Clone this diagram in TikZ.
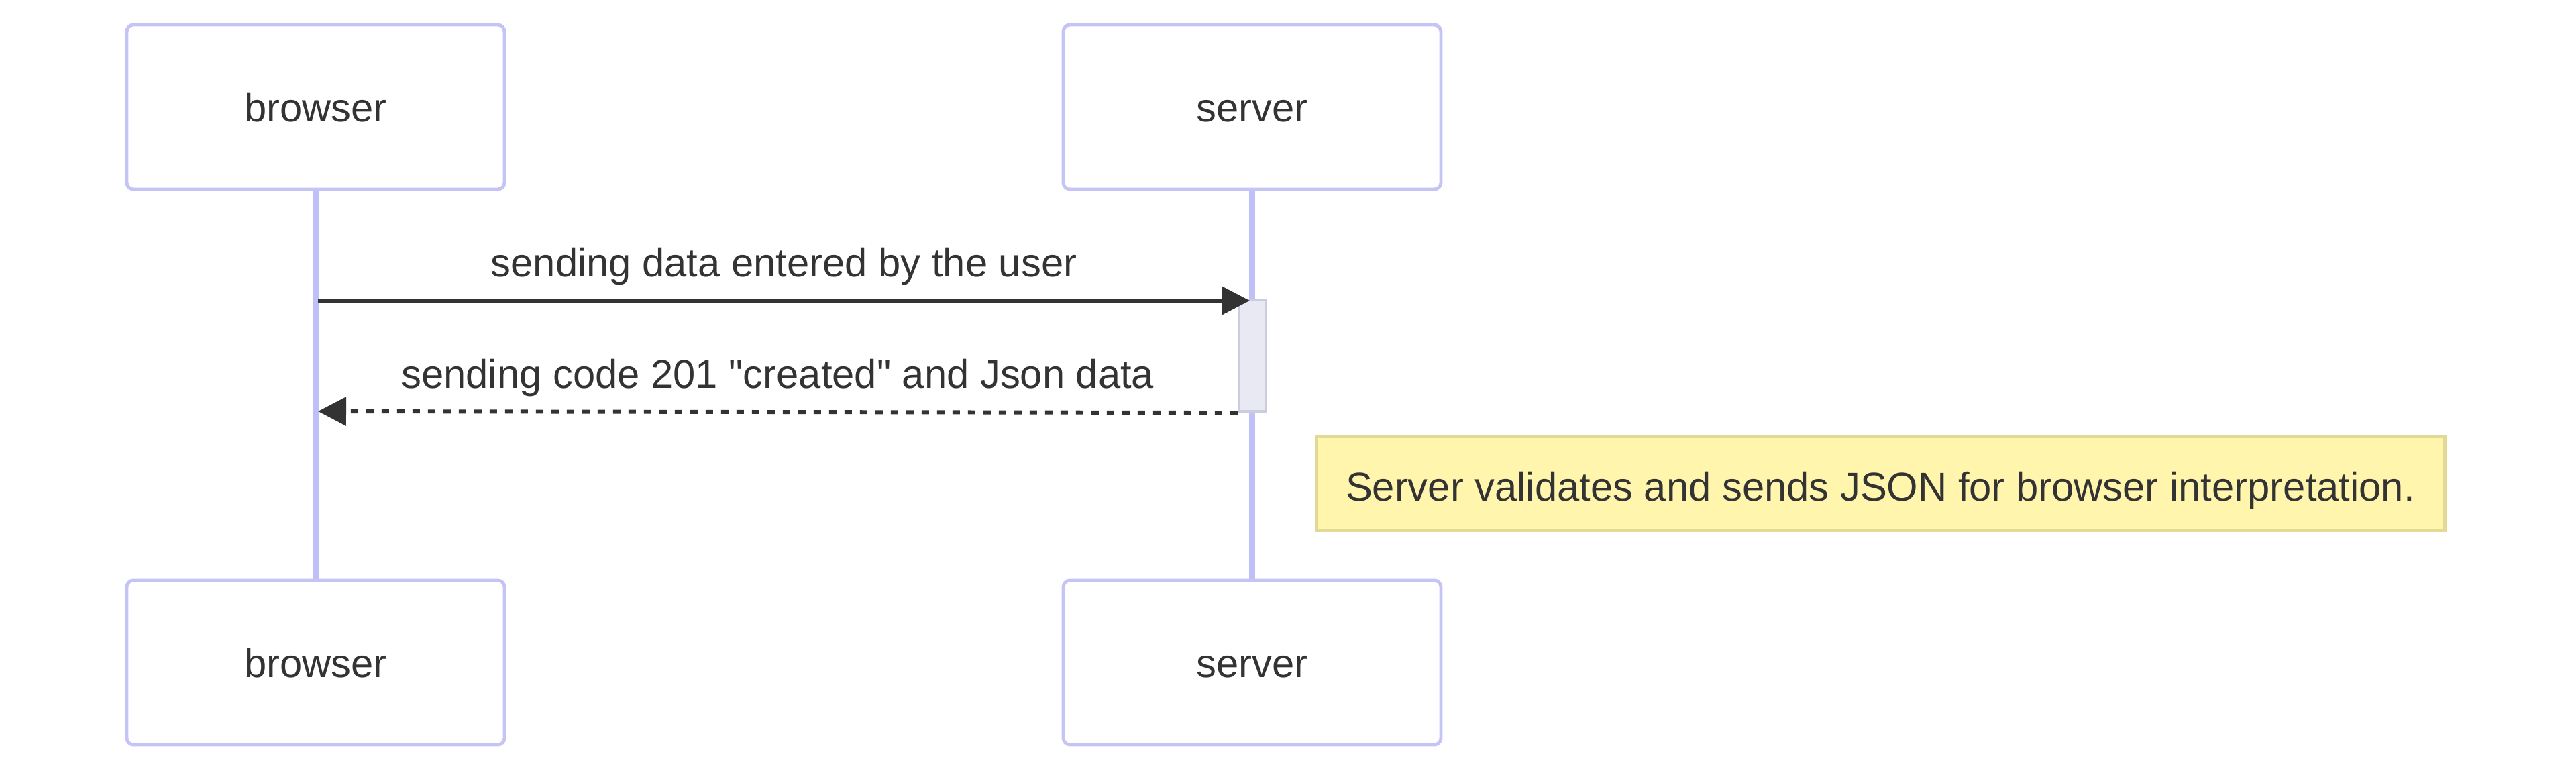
\documentclass[tikz,border=0pt]{standalone}
\usepackage{fontspec}
\setmainfont{Liberation Sans}
\usetikzlibrary{arrows.meta}
\definecolor{actorborder}{RGB}{196,196,246}
\definecolor{lifecolor}{RGB}{192,192,248}
\definecolor{actfill}{RGB}{233,233,244}
\definecolor{actborder}{RGB}{204,204,224}
\definecolor{notefill}{RGB}{255,245,173}
\definecolor{noteborder}{RGB}{226,218,148}
\definecolor{inkgray}{RGB}{51,51,51}

\begin{document}
\begin{tikzpicture}[
    actor/.style={draw=actorborder, line width=1.4pt, rounded corners=0.1cm, fill=white,
                  minimum width=5.63cm, minimum height=2.45cm, text=inkgray,
                  text height=12.75pt, text depth=0pt,
                  font=\fontsize{17}{20}\selectfont},
    lifeline/.style={lifecolor, line width=2.4pt},
    activation/.style={draw=actborder, fill=actfill, line width=1.2pt,
                       minimum width=0.4cm, minimum height=1.66cm, inner sep=0pt},
    msg/.style={inkgray, line width=1.7pt, -{Triangle[length=0.42cm, width=0.42cm]}},
    reply/.style={msg, dash pattern=on 0.11cm off 0.12cm},
    msglabel/.style={text=inkgray, font=\fontsize{17}{20}\selectfont, yshift=0.51cm},
    note/.style={draw=noteborder, fill=notefill, line width=1.4pt,
                 minimum width=16.82cm, minimum height=1.4cm, text=inkgray,
                 text height=14.6pt, text depth=0pt,
                 font=\fontsize{17}{20}\selectfont}]
    \useasboundingbox (0,0) rectangle (38.4,11.55);
    % participants
    \node [actor] (browsertop) at (4.705,9.955) {browser};
    \node [actor] (servertop) at (18.665,9.955) {server};
    \node [actor] (browserbot) at (4.705,1.675) {browser};
    \node [actor] (serverbot) at (18.665,1.675) {server};
    \draw [lifeline] (browsertop) -- (browserbot);
    \draw [lifeline] (servertop) -- (serverbot);
    % activation on server
    \node [activation] (act) at (18.67,6.25) {};
    % messages
    \coordinate (reqstart) at (4.74,7.07);
    \coordinate (reqend) at (18.63,7.07);
    \coordinate (replyend) at (4.74,5.42);
    \draw [msg] (reqstart) -- node [midway, msglabel] (reqlabel) {sending data entered by the user} (reqend);
    \draw [reply] (act.south west) -- node [midway, msglabel] (replylabel) {sending code 201 \textquotedbl created\textquotedbl{} and Json data} (replyend);
    % note
    \node [note] (servernote) at (28.03,4.34) {Server validates and sends JSON for browser interpretation.};
\end{tikzpicture}
\end{document}
